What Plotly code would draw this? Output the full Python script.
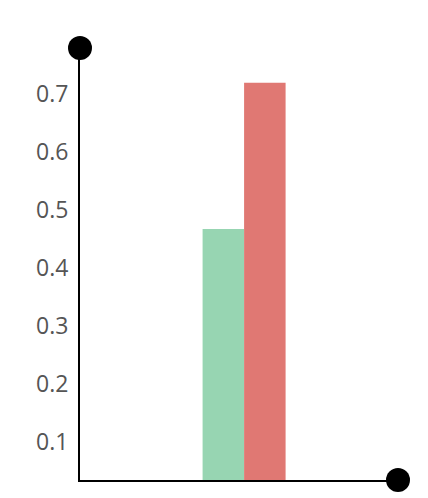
import plotly.graph_objects as go

categories = [""]
series_names = ["A", "B"]
series_values = [[0.467], [0.719]]
series_colors = ["#97d5b2", "#e07873"]
y_ticks = [0.1, 0.2, 0.3, 0.4, 0.5, 0.6, 0.7]

fig = go.Figure()
for name, vals, col in zip(series_names, series_values, series_colors):
    fig.add_trace(go.Bar(x=categories, y=vals, name=name, marker=dict(color=col, line=dict(width=0))))

# the page body has an 8px default margin, so the figure is 8px smaller and margins reduced by 8
fig.update_layout(
    width=420, height=490,
    margin=dict(l=72, r=30, t=40, b=18),
    plot_bgcolor="white", paper_bgcolor="white",
    showlegend=False,
    barmode="group", bargap=0.739, bargroupgap=0,
    font=dict(family="Open Sans", size=23, color="#555555"),
    xaxis=dict(range=[-0.516, 0.484], showline=True, linecolor="black", linewidth=2,
               showgrid=False, showticklabels=False, zeroline=False),
    yaxis=dict(range=[0.0345, 0.779], showline=True, linecolor="black", linewidth=2,
               showgrid=False, zeroline=False, tickvals=y_ticks,
               ticktext=[f"{v:.1f}" for v in y_ticks], ticks="", ticklabelstandoff=5),
    shapes=[
        dict(type="circle", xref="paper", yref="paper", xsizemode="pixel", ysizemode="pixel",
             xanchor=0, yanchor=1, x0=-12, x1=12, y0=-12, y1=12,
             fillcolor="black", line=dict(width=0)),
        dict(type="circle", xref="paper", yref="paper", xsizemode="pixel", ysizemode="pixel",
             xanchor=1, yanchor=0, x0=-12, x1=12, y0=-12, y1=12,
             fillcolor="black", line=dict(width=0)),
    ],
)

fig.write_html("out.html")
